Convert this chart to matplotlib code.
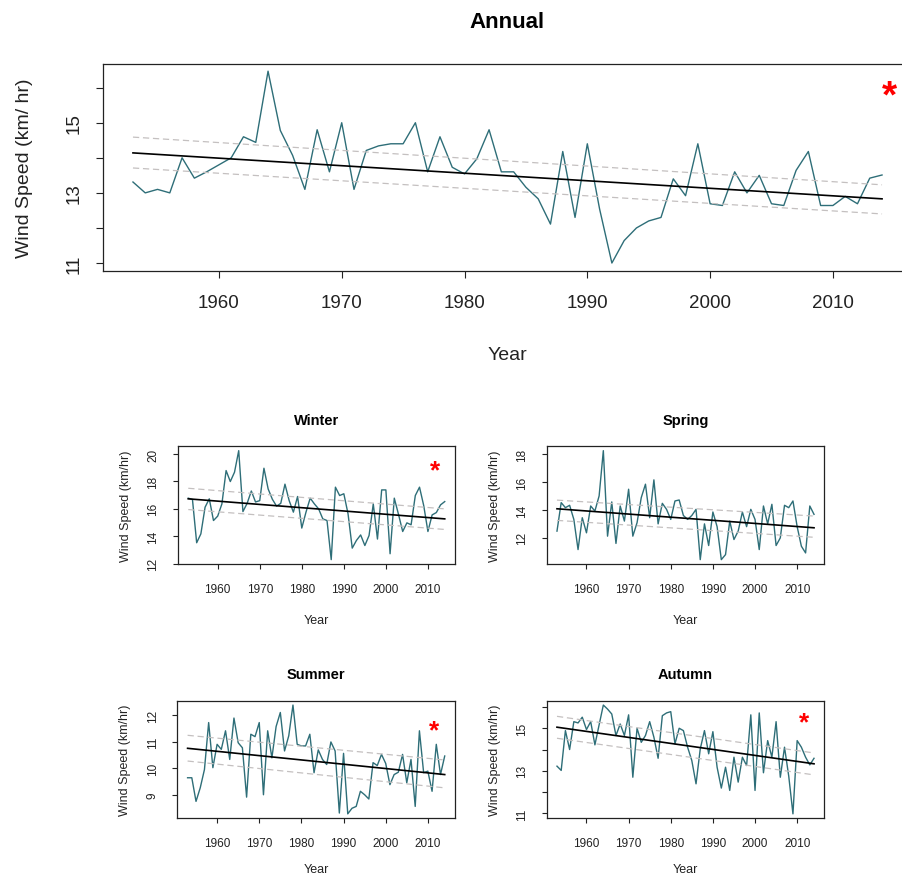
import numpy as np
import matplotlib.pyplot as plt

plt.rcParams['font.family'] = ['Liberation Sans', 'DejaVu Sans']

years = list(range(1953, 2015))

annual = [13.31, 13.0, 13.1, 13.0, 14.0, 13.42, 13.6, 13.8, 14.0, 14.6,
          14.44, 16.47, 14.78, 14.07, 13.1, 14.8, 13.6, 15.0, 13.1, 14.21,
          14.34, 14.4, 14.4, 15.0, 13.6, 14.6, 13.73, 13.54, 13.97, 14.8,
          13.6, 13.6, 13.16, 12.83, 12.11, 14.18, 12.3, 14.4, 12.54, 11.0,
          11.64, 12.0, 12.2, 12.3, 13.4, 12.92, 14.4, 12.69, 12.64, 13.6,
          13.0, 13.5, 12.69, 12.64, 13.64, 14.18, 12.64, 12.64, 12.9, 12.69,
          13.42, 13.51]

winter = [16.78, 16.68, 13.53, 14.18, 16.12, 16.73, 15.15, 15.47, 16.36, 18.79,
          17.99, 18.67, 20.24, 15.8, 16.4, 17.3, 16.5, 16.6, 18.96, 17.45,
          16.7, 16.2, 16.4, 17.8, 16.6, 15.76, 16.9, 14.6, 15.76, 16.78,
          16.36, 16.0, 15.27, 15.15, 12.3, 17.58, 16.97, 17.1, 15.64, 13.14,
          13.7, 14.1, 13.33, 14.06, 16.36, 13.8, 17.38, 17.38, 12.73, 16.78,
          15.6, 14.35, 14.98, 14.84, 16.97, 17.58, 16.24, 14.35, 15.56, 15.73,
          16.29, 16.53]

spring = [12.48, 14.52, 14.16, 14.33, 13.32, 11.16, 13.44, 12.36, 14.28, 13.92,
          15.0, 18.24, 12.12, 14.57, 11.6, 14.28, 13.2, 15.48, 12.12, 13.08,
          14.88, 15.84, 13.44, 16.15, 13.0, 14.47, 14.04, 13.32, 14.64, 14.71,
          13.6, 13.32, 13.6, 14.04, 10.44, 13.0, 11.45, 13.85, 12.8, 10.44,
          10.8, 13.2, 11.88, 12.48, 13.85, 12.8, 14.04, 13.32, 11.16, 14.28,
          13.0, 14.4, 11.45, 12.0, 14.33, 14.16, 14.64, 12.8, 11.4, 10.92,
          14.28, 13.68]

summer = [9.65, 9.65, 8.76, 9.27, 9.96, 11.73, 10.03, 10.91, 10.72, 11.42,
          10.34, 11.9, 10.97, 10.78, 8.92, 11.29, 11.2, 11.73, 9.01, 11.42,
          10.4, 11.58, 12.11, 10.66, 11.23, 12.39, 10.91, 10.85, 10.85, 11.29,
          9.84, 10.7, 10.34, 10.15, 11.0, 10.66, 8.32, 10.57, 8.29, 8.5,
          8.57, 9.14, 9.01, 8.85, 10.22, 10.11, 10.53, 10.19, 9.39, 9.77,
          9.86, 10.53, 9.46, 10.34, 8.57, 11.42, 9.84, 9.9, 9.14, 10.91,
          9.77, 10.47]

autumn = [13.22, 13.02, 14.89, 14.0, 15.31, 15.25, 15.52, 14.94, 15.31, 14.22,
          15.16, 16.09, 15.9, 15.67, 14.66, 15.2, 14.66, 15.63, 12.7, 15.0,
          14.34, 14.66, 15.31, 14.58, 13.59, 15.59, 15.72, 15.78, 14.27, 15.0,
          14.89, 14.11, 13.48, 12.39, 14.03, 14.89, 13.8, 14.84, 13.17, 12.19,
          13.17, 12.08, 13.64, 12.47, 13.64, 13.25, 15.63, 12.08, 15.72, 12.91,
          14.42, 13.64, 15.31, 12.7, 14.11, 12.75, 10.98, 14.42, 14.11, 13.64,
          13.28, 13.59]

# trend line and its bounds, values at first and last year
trend_years = [1953, 2014]
annual_trend = [14.14, 12.83]
annual_upper = [14.59, 13.23]
annual_lower = [13.71, 12.40]
winter_trend = [16.73, 15.27]
winter_upper = [17.50, 16.00]
winter_lower = [15.95, 14.50]
spring_trend = [14.08, 12.72]
spring_upper = [14.70, 13.56]
spring_lower = [13.25, 12.04]
summer_trend = [10.76, 9.77]
summer_upper = [11.25, 10.32]
summer_lower = [10.28, 9.27]
autumn_trend = [15.05, 13.33]
autumn_upper = [15.56, 13.84]
autumn_lower = [14.53, 12.81]

xticks = [1960, 1970, 1980, 1990, 2000, 2010]

W, H = 903, 878
fig = plt.figure(figsize=(W / 100, H / 100), dpi=100)


def rect(x0, y0, x1, y1):
    return [x0 / W, 1 - y1 / H, (x1 - x0) / W, (y1 - y0) / H]


def panel(box, title, vals, trend, upper, lower, yticks, ylabels, star,
          big=False, xlabpad=14):
    ax = fig.add_axes(box)
    ax.plot(years, vals, color='#2e6e78', lw=1.0)
    ax.plot(trend_years, upper, color='#c4c0c0', lw=0.9, dashes=(5, 3))
    ax.plot(trend_years, lower, color='#c4c0c0', lw=0.9, dashes=(5, 3))
    ax.plot(trend_years, trend, color='black', lw=1.2)

    pad = 0.04 * (max(years) - min(years))
    ax.set_xlim(min(years) - pad, max(years) + pad)
    ypad = 0.04 * (max(vals) - min(vals))
    ax.set_ylim(min(vals) - ypad, max(vals) + ypad)

    fs_tick = 13.5 if big else 8.5
    fs_lab = 14 if big else 9
    tl = 5 if big else 3.5
    ax.set_xticks(xticks)
    ax.set_xticklabels([str(t) for t in xticks], fontsize=fs_tick)
    ax.set_yticks(yticks)
    ax.set_yticklabels(ylabels, fontsize=fs_tick, rotation=90, va='center')
    ax.tick_params(axis='x', length=tl, width=0.8, colors='#222222',
                   pad=12 if big else 10)
    ax.tick_params(axis='y', length=tl, width=0.8, colors='#222222',
                   pad=10 if big else 10)
    for s in ax.spines.values():
        s.set_linewidth(0.9)
        s.set_color('#222222')

    ax.set_xlabel('Year', fontsize=fs_lab, color='#222222',
                  labelpad=25 if big else xlabpad)
    ax.set_ylabel('Wind Speed (km/ hr)' if big else 'Wind Speed (km/hr)',
                  fontsize=fs_lab, color='#222222',
                  labelpad=23 if big else 11)
    ax.set_title(title, fontsize=16 if big else 10.5, fontweight='bold',
                 pad=26 if big else 16)
    if star is not None:
        ax.text(star[0], star[1], '*', color='red', transform=ax.transAxes,
                fontsize=28 if big else 19, fontweight='bold',
                ha='center', va='center')
    return ax


panel(rect(103, 64.5, 912, 271.7), 'Annual', annual,
      annual_trend, annual_upper, annual_lower,
      [11, 12, 13, 14, 15, 16], ['11', '', '13', '', '15', ''],
      (0.9716, 0.84), big=True)

panel(rect(178, 447.3, 455, 565), 'Winter', winter,
      winter_trend, winter_upper, winter_lower,
      [12, 14, 16, 18, 20], ['12', '14', '16', '18', '20'], (0.928, 0.80))

panel(rect(546.7, 447.3, 824.3, 565), 'Spring', spring,
      spring_trend, spring_upper, spring_lower,
      [12, 14, 16, 18], ['12', '14', '16', '18'], None)

panel(rect(177.3, 701.7, 455, 819.2), 'Summer', summer,
      summer_trend, summer_upper, summer_lower,
      [9, 10, 11, 12], ['9', '10', '11', '12'], (0.925, 0.75), xlabpad=10)

panel(rect(546.7, 701.7, 824.3, 819.2), 'Autumn', autumn,
      autumn_trend, autumn_upper, autumn_lower,
      [11, 12, 13, 14, 15, 16], ['11', '', '13', '', '15', ''],
      (0.928, 0.815), xlabpad=10)

fig.savefig('out.png', dpi=100)
